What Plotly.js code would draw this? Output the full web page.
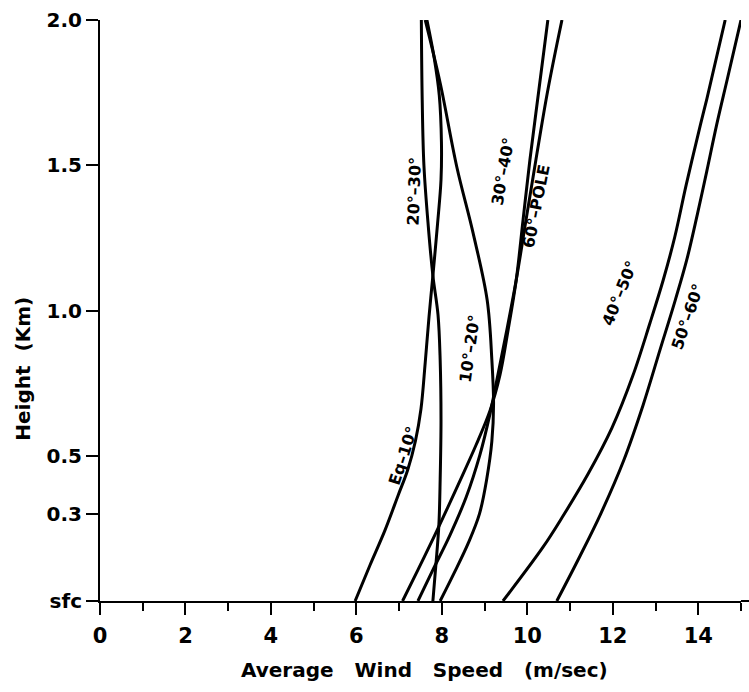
<!DOCTYPE html>
<html>
<head>
<meta charset="utf-8">
<script src="https://cdn.plot.ly/plotly-3.0.1.min.js"></script>
<style>html,body{margin:0;padding:0;background:#fff;}#chart{width:749px;height:692px;}</style>
</head>
<body>
<div id="chart"></div>
<script>
// Average wind speed (m/sec) vs height (km) for latitude bands
const eq10Speed   = [5.97, 6.32, 6.67, 6.98, 7.20, 7.38, 7.51, 7.61, 7.70, 7.79, 7.90, 7.98, 7.99, 7.94, 7.82, 7.65];
const eq10Height  = [0.00, 0.124, 0.244, 0.365, 0.451, 0.55, 0.66, 0.82, 0.98, 1.12, 1.30, 1.45, 1.58, 1.74, 1.87, 2.00];

const b1020Speed  = [7.96, 8.30, 8.62, 8.88, 9.05, 9.17, 9.21, 9.17, 9.06, 8.73, 8.35, 7.96, 7.61];
const b1020Height = [0.00, 0.10, 0.20, 0.30, 0.42, 0.55, 0.68, 0.83, 1.036, 1.267, 1.494, 1.783, 2.00];

const b2030Speed  = [7.79, 7.86, 7.93, 7.96, 7.98, 7.96, 7.91, 7.79, 7.68, 7.58, 7.54, 7.52];
const b2030Height = [0.00, 0.124, 0.262, 0.417, 0.623, 0.83, 0.985, 1.12, 1.294, 1.50, 1.725, 2.00];

const b3040Speed  = [7.08, 7.44, 7.89, 8.38, 8.80, 9.13, 9.36, 9.55, 9.74, 9.90, 10.06, 10.27, 10.48];
const b3040Height = [0.00, 0.107, 0.244, 0.40, 0.537, 0.657, 0.778, 0.933, 1.105, 1.312, 1.518, 1.759, 2.00];

const b4050Speed  = [9.43, 10.37, 10.82, 11.42, 11.98, 12.47, 12.87, 13.18, 13.45, 13.72, 14.05, 14.20, 14.63];
const b4050Height = [0.00, 0.186, 0.289, 0.437, 0.596, 0.776, 0.957, 1.105, 1.253, 1.434, 1.639, 1.728, 2.00];

const b5060Speed  = [10.69, 11.23, 11.72, 12.25, 12.71, 13.11, 13.42, 13.73, 13.98, 14.20, 14.43, 14.68, 15.00];
const b5060Height = [0.00, 0.154, 0.301, 0.482, 0.675, 0.867, 1.015, 1.174, 1.332, 1.48, 1.639, 1.797, 2.00];

const b60PSpeed   = [7.44, 7.79, 8.19, 8.57, 8.89, 9.13, 9.31, 9.52, 9.74, 9.97, 10.20, 10.48, 10.81];
const b60PHeight  = [0.00, 0.107, 0.227, 0.358, 0.503, 0.647, 0.778, 0.933, 1.105, 1.312, 1.518, 1.759, 2.00];

const heightTicks  = [0, 0.3, 0.5, 1.0, 1.5, 2.0];
const heightLabels = ['sfc', '0.3', '0.5', '1.0', '1.5', '2.0'];
const speedTicks   = [0, 2, 4, 6, 8, 10, 12, 14];

// curve labels: text, speed, height, angle
const labelText   = ['Eq–10°', '10°–20°', '20°–30°', '30°–40°', '60°–POLE', '40°–50°', '50°–60°'];
const labelSpeed  = [7.1, 8.65, 7.35, 9.42, 10.22, 12.15, 13.75];
const labelHeight = [0.50, 0.87, 1.41, 1.48, 1.36, 1.06, 0.98];
const labelAngle  = [-72, -82, -88, -80, -79, -68, -71];

const series = [
  [eq10Speed, eq10Height], [b1020Speed, b1020Height], [b2030Speed, b2030Height],
  [b3040Speed, b3040Height], [b4050Speed, b4050Height], [b5060Speed, b5060Height],
  [b60PSpeed, b60PHeight]
];

const FONT = 'DejaVu Sans, sans-serif';

const traces = series.map(s => ({
  x: s[0], y: s[1], type: 'scatter', mode: 'lines',
  line: {color: '#000', width: 3, shape: 'spline', smoothing: 1},
  hoverinfo: 'skip', showlegend: false, cliponaxis: false
}));

const annotations = labelText.map((t, i) => ({
  text: t, x: labelSpeed[i], y: labelHeight[i], xref: 'x', yref: 'y',
  showarrow: false, textangle: labelAngle[i],
  font: {family: FONT, size: 16, color: '#000', weight: 'bold'}
}));

annotations.push({
  text: 'Average\u00A0\u00A0\u00A0Wind\u00A0\u00A0\u00A0Speed\u00A0\u00A0\u00A0(m/sec)',
  xref: 'paper', yref: 'paper', x: 0.507, y: -0.119, xanchor: 'center', yanchor: 'middle',
  showarrow: false, font: {family: FONT, size: 20, color: '#000', weight: 'bold'}
});
annotations.push({
  text: 'Height\u00A0\u00A0(Km)',
  xref: 'paper', yref: 'paper', x: -0.12, y: 0.40, xanchor: 'center', yanchor: 'middle',
  textangle: -90, showarrow: false, font: {family: FONT, size: 20, color: '#000', weight: 'bold'}
});

const layout = {
  width: 749, height: 692,
  margin: {l: 100, r: 8, t: 20, b: 91},
  paper_bgcolor: '#fff', plot_bgcolor: '#fff',
  showlegend: false,
  xaxis: {
    range: [0, 15], showgrid: false, zeroline: false,
    showline: true, linecolor: '#000', linewidth: 2,
    ticks: 'outside', ticklen: 12, tickwidth: 2, tickcolor: '#000',
    tickvals: speedTicks, ticktext: speedTicks.map(String),
    minor: {dtick: 1, tick0: 0, ticks: 'outside', ticklen: 8, tickwidth: 2, tickcolor: '#000', showgrid: false},
    tickfont: {family: FONT, size: 21, color: '#000', weight: 'bold'},
    ticklabelstandoff: 3
  },
  yaxis: {
    range: [0, 2], showgrid: false, zeroline: false,
    showline: true, linecolor: '#000', linewidth: 2,
    ticks: 'outside', ticklen: 12, tickwidth: 2, tickcolor: '#000',
    tickvals: heightTicks, ticktext: heightLabels,
    tickfont: {family: FONT, size: 20, color: '#000', weight: 'bold'}
  },
  shapes: [
    {type: 'line', xref: 'x', yref: 'paper', x0: 0, x1: 0, y0: 0, y1: -0.013, line: {color: '#000', width: 2}},
    {type: 'line', xref: 'paper', yref: 'paper', x0: 1, x1: 1.0125, y0: 0, y1: 0, line: {color: '#000', width: 2}}
  ],
  annotations: annotations
};

Plotly.newPlot('chart', traces, layout, {displayModeBar: false, staticPlot: true});
</script>
</body>
</html>
